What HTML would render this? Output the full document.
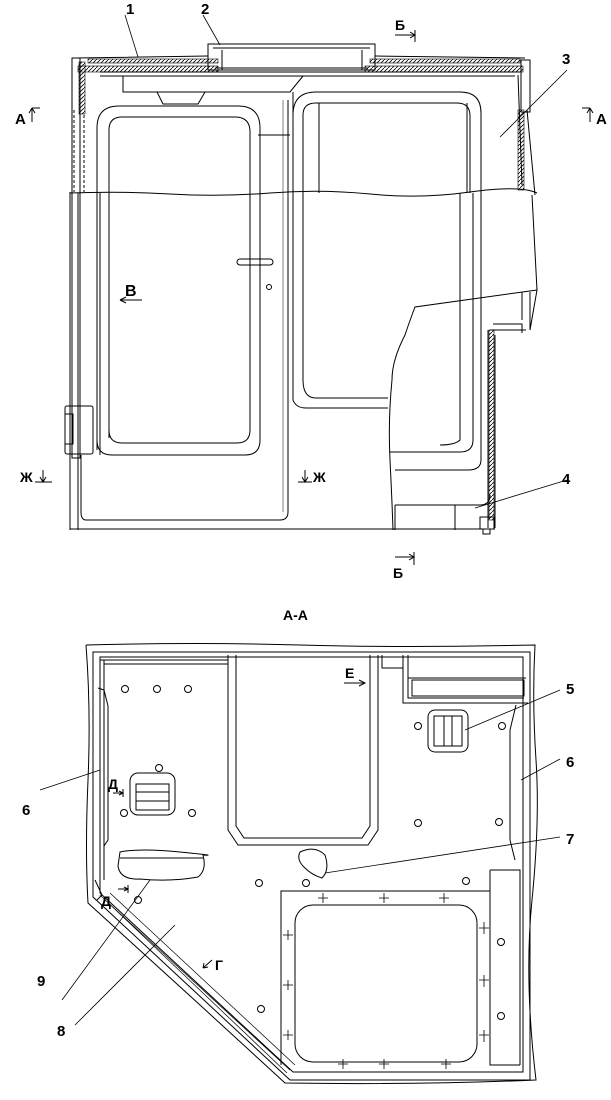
<!DOCTYPE html>
<html><head><meta charset="utf-8"><style>
html,body{margin:0;padding:0;background:#fff;}
svg{display:block}
text{font-family:"Liberation Sans",sans-serif;font-weight:bold;fill:#000}
</style></head><body>
<svg width="611" height="1100" viewBox="0 0 611 1100" xmlns="http://www.w3.org/2000/svg">
<defs>
<pattern id="h" width="4" height="4" patternUnits="userSpaceOnUse"><path d="M0 4L4 0" stroke="#000" stroke-width="0.8"/></pattern>
</defs>
<g fill="none" stroke="#000" stroke-width="1">
<path d="M76 58 L208 56 M375 56 L525 58"/>
<rect x="208" y="44" width="167" height="26"/>
<path d="M213 48 H370 M222 50 V70 M362 50 V70 M215 68 H368"/>
<rect x="78" y="66" width="140" height="6" fill="url(#h)" stroke-width="0.6"/>
<rect x="365" y="66" width="158" height="6" fill="url(#h)" stroke-width="0.6"/>
<rect x="88" y="59" width="130" height="4" fill="url(#h)" stroke-width="0.6"/>
<rect x="370" y="59" width="150" height="4" fill="url(#h)" stroke-width="0.6"/>
<path d="M100 72 H520 M100 76 H515"/>
<path d="M123 76 V92 H290 L303 76 M157 92 L163 104 H198 L205 92"/>
<rect x="72" y="58" width="8" height="400"/>
<rect x="79" y="62" width="6" height="52" fill="url(#h)" stroke-width="0.6"/>
<path d="M74 110 V192 M84 115 V192" stroke-dasharray="3,2"/>
<path d="M70 192 V530"/>
<rect x="521" y="60" width="9" height="52"/>
<path d="M518 75 L522 185 M527 110 L535 195" />
<rect x="518" y="110" width="6" height="80" fill="url(#h)" stroke-width="0.6"/>
<path d="M532 195 L537 290 M537 290 L530 330"/>
<path d="M530 292 V330 M522 292 V320"/>
<path d="M70 193 Q120 191 170 194 T270 193 T370 194 T470 192 T537 193"/>
<path d="M78 193 V530 M100 193 V455"/>
<path d="M97 450 V128 Q97 106 119 106 H238 Q260 106 260 128 V440 Q260 455 245 455 H112 Q97 455 97 440"/>
<path d="M109 438 V130 Q109 117 122 117 H235 Q250 117 250 132 V430 Q250 443 237 443 H122 Q109 443 109 430 Z"/>
<path d="M258 135 H290"/>
<path d="M288 100 V512 Q288 520 280 520 H86 Q81 520 81 512 V455"/>
<path d="M283 100 V512" stroke-width="0.5"/>
<path d="M293 92 V400"/>
<rect x="237" y="259" width="36" height="6" rx="3"/>
<circle cx="269" cy="287" r="2.5"/>
<rect x="65" y="406" width="28" height="48" rx="2"/>
<rect x="65" y="414" width="8" height="30"/>
<path d="M293 400 V115 Q293 92 316 92 H460 Q481 92 481 113 V193"/>
<path d="M303 380 V115 Q303 103 316 103 H457 Q470 103 470 116 V193"/>
<path d="M319 103 V193 M467 103 V193"/>
<path d="M293 400 Q296 408 306 408 H388 M303 380 Q303 398 316 398 H388"/>
<path d="M473 193 V440 Q473 452 460 452 H390 M481 193 V460 Q481 470 468 470 H395 M460 193 V440 Q455 445 440 445"/>
<path d="M537 290 L415 307 Q410 320 405 335 Q392 360 392 380 Q388 420 390 460 Q392 500 393 530"/>
<path d="M395 505 H480 Q490 505 490 495 M395 505 V530 M455 505 V530"/>
<path d="M490 330 H526 M493 324 H522 V333 M488 330 V528 M495 335 V528"/>
<rect x="489" y="330" width="5" height="190" fill="url(#h)" stroke-width="0.6"/>
<rect x="480" y="517" width="14" height="12"/>
<rect x="483" y="529" width="7" height="5"/>
<path d="M70 529 H495"/>
<path d="M125 15 L138 57 M203 15 L220 45 M567 70 L500 137 M567 480 L475 508" stroke-width="0.8"/>
<path d="M32 108 V122 M32 108 L29 113 M32 108 L35 113 M32 108 H40"/>
<path d="M590 108 V122 M590 108 L587 113 M590 108 L593 113 M590 108 H582"/>
<path d="M395 35 H415 M415 30 V42 M410 32 L415 35 L410 38"/>
<path d="M395 557 H414 M414 552 V565 M409 554 L414 557 L409 560"/>
<path d="M43 470 V482 M40 477 L43 482 L46 477 M35 482 H52"/>
<path d="M305 470 V482 M302 477 L305 482 L308 477 M298 482 H312"/>
<path d="M120 300 H142 M120 300 L126 297 M120 300 L126 303"/>
<!-- SECTION A-A -->
<path d="M86 645 Q200 642 300 645 T535 645 Q532 700 536 760 T532 900 T536 1080 Q420 1085 285 1083 L200 1005 L88 903 Q85 850 88 780 T86 645"/>
<path d="M93 652 H530 V1080 H290 L93 897 Z"/>
<path d="M100 657 H523 V1072 H293 L100 893 Z"/>
<path d="M103 898 L290 1070 M110 893 L295 1065 M100 895 L287 1073" stroke-width="0.7"/>
<path d="M95 880 L102 895 L97 900"/>
<path d="M104 660 V880 M100 660 H228 M104 664 H228"/>
<path d="M98 688 L104 690 M104 690 L108 706 V840 L104 846"/>
<path d="M228 655 V830 L238 845 H368 L378 830 V655"/>
<path d="M236 655 V826 L244 838 H362 L370 826 V655"/>
<path d="M403 655 V703 H528 M408 655 V698 H524 M382 655 V668 H403 M408 678 H526"/>
<rect x="412" y="680" width="112" height="16"/>
<path d="M516 705 L510 730 V840 L515 860 M512 870 H520 V1065"/>
<path d="M281 1065 V891 H490 V1065 M490 870 H520 M490 870 V1065 H520"/>
<rect x="295" y="905" width="182" height="157" rx="18"/>
<rect x="428" y="710" width="40" height="42" rx="7"/>
<rect x="434" y="716" width="28" height="30"/>
<path d="M444 716 V746 M452 716 V746"/>
<rect x="130" y="773" width="45" height="42" rx="8"/>
<rect x="136" y="784" width="33" height="26"/>
<path d="M136 792 H169 M136 801 H169"/>
<path d="M120 852 Q140 848 180 852 T203 855 Q207 870 198 877 Q170 882 140 879 Q120 880 118 866 Z"/>
<path d="M120 858 H203"/>
<path d="M300 852 Q315 845 325 855 Q330 870 322 878 Q312 875 305 868 Q296 860 300 852 Z"/>
<g>
<circle cx="125" cy="689" r="3.5"/><circle cx="157" cy="689" r="3.5"/><circle cx="188" cy="689" r="3.5"/>
<circle cx="159" cy="768" r="3.5"/><circle cx="124" cy="813" r="3.5"/><circle cx="192" cy="813" r="3.5"/>
<circle cx="138" cy="900" r="3.5"/><circle cx="259" cy="883" r="3.5"/><circle cx="306" cy="883" r="3.5"/>
<circle cx="466" cy="881" r="3.5"/><circle cx="418" cy="726" r="3.5"/><circle cx="502" cy="726" r="3.5"/>
<circle cx="418" cy="823" r="3.5"/><circle cx="499" cy="822" r="3.5"/><circle cx="501" cy="942" r="3.5"/>
<circle cx="501" cy="1016" r="3.5"/><circle cx="261" cy="1009" r="3.5"/>
</g>
<path d="M318 898 h10 M323 893 v10 M379 898 h10 M384 893 v10 M439 898 h10 M444 893 v10
M283 935 h10 M288 930 v10 M283 985 h10 M288 980 v10 M283 1035 h10 M288 1030 v10
M479 928 h10 M484 922 v12 M479 980 h10 M484 975 v12 M479 1035 h10 M484 1030 v12
M338 1064 h10 M343 1059 v10 M379 1064 h10 M384 1059 v10 M441 1064 h10 M446 1059 v10" stroke-width="0.8"/>
<path d="M560 690 L465 730 M560 759 L521 780 M560 837 L325 873 M62 1000 L150 880 M75 1025 L175 925 M40 790 L100 770" stroke-width="0.8"/>
<path d="M344 683 H365 M359 680 L365 683 L359 686"/>
<path d="M113 793 H123 M123 789 V797 M119 791 L123 793 L119 795"/>
<path d="M118 889 H128 M128 885 V893 M124 887 L128 889 L124 891"/>
<path d="M203 968 L212 960 M203 968 L204 963 M203 968 L208 967"/>
</g>
<text x="126" y="14" font-size="15">1</text>
<text x="201" y="14" font-size="15">2</text>
<text x="562" y="64" font-size="15">3</text>
<text x="562" y="484" font-size="15">4</text>
<text x="395" y="30" font-size="14">Б</text>
<text x="393" y="578" font-size="14">Б</text>
<text x="15" y="124" font-size="15">А</text>
<text x="596" y="124" font-size="15">А</text>
<text x="125" y="296" font-size="16">В</text>
<text x="20" y="482" font-size="14">Ж</text>
<text x="313" y="482" font-size="14">Ж</text>
<text x="283" y="620" font-size="14">А-А</text>
<text x="345" y="678" font-size="14">Е</text>
<text x="566" y="694" font-size="15">5</text>
<text x="566" y="767" font-size="15">6</text>
<text x="22" y="815" font-size="15">6</text>
<text x="566" y="844" font-size="15">7</text>
<text x="108" y="789" font-size="14">Д</text>
<text x="101" y="906" font-size="14">Д</text>
<text x="215" y="970" font-size="14">Г</text>
<text x="37" y="986" font-size="15">9</text>
<text x="57" y="1036" font-size="15">8</text>
</svg>
</body></html>
